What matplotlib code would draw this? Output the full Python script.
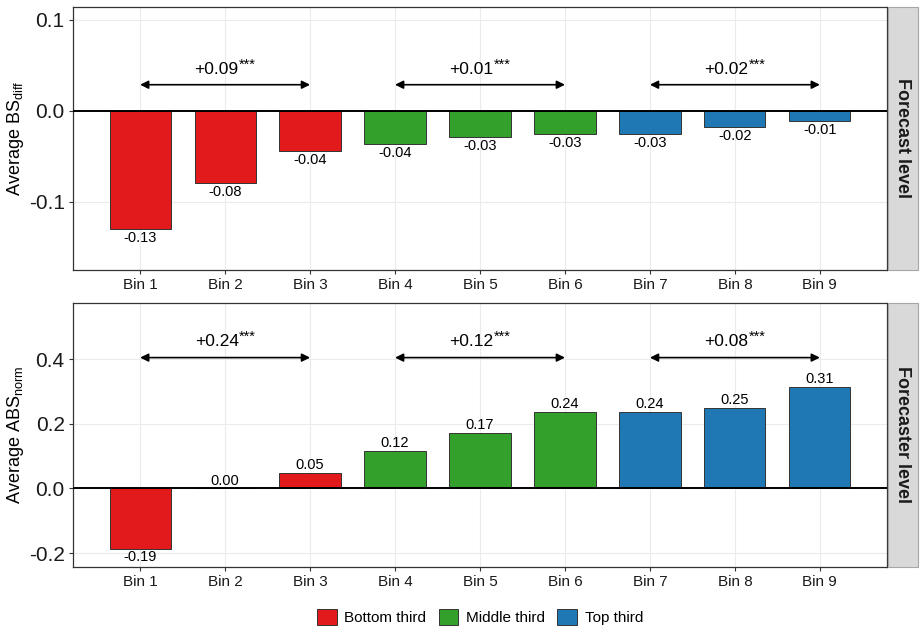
import matplotlib
matplotlib.use("Agg")
import matplotlib.pyplot as plt
from matplotlib.patches import Patch, Rectangle
from matplotlib.transforms import offset_copy

plt.rcParams['font.family'] = ['Liberation Sans', 'DejaVu Sans']
plt.rcParams['mathtext.fontset'] = 'custom'
plt.rcParams['mathtext.rm'] = 'Liberation Sans'
plt.rcParams['mathtext.it'] = 'Liberation Sans'
plt.rcParams['mathtext.bf'] = 'Liberation Sans:bold'

bins = ["Bin 1", "Bin 2", "Bin 3", "Bin 4", "Bin 5", "Bin 6", "Bin 7", "Bin 8", "Bin 9"]
groups = ["Bottom third"] * 3 + ["Middle third"] * 3 + ["Top third"] * 3
group_names = ["Bottom third", "Middle third", "Top third"]
group_colors = {"Bottom third": "#E31A1C", "Middle third": "#33A02C", "Top third": "#1F78B4"}

bs_diff = [-0.130, -0.0795, -0.0447, -0.0366, -0.0289, -0.026, -0.026, -0.018, -0.011]
abs_norm = [-0.188, 0.0, 0.0487, 0.116, 0.172, 0.236, 0.236, 0.248, 0.313]

bs_diff_labels = ["-0.13", "-0.08", "-0.04", "-0.04", "-0.03", "-0.03", "-0.03", "-0.02", "-0.01"]
abs_norm_labels = ["-0.19", "0.00", "0.05", "0.12", "0.17", "0.24", "0.24", "0.25", "0.31"]

top_diffs = ["+0.09", "+0.01", "+0.02"]
bottom_diffs = ["+0.24", "+0.12", "+0.08"]
signif = "***"

W, H = 924, 633
fig = plt.figure(figsize=(W / 100, H / 100), dpi=100)

def ax_rect(l, t, r, b):
    return [l / W, 1 - b / H, (r - l) / W, (b - t) / H]

ax1 = fig.add_axes(ax_rect(73, 7, 887, 270))
ax2 = fig.add_axes(ax_rect(73, 303, 887, 567))

x = list(range(1, 10))
colors = [group_colors[g] for g in groups]

def style(ax, ylim, yticks, yticklabels, ylabel, strip):
    ax.set_xlim(0.21, 9.79)
    ax.set_ylim(*ylim)
    ax.set_yticks(yticks)
    ax.set_yticklabels(yticklabels, fontsize=15, color='#1a1a1a')
    ax.set_xticks(x)
    ax.set_xticklabels(bins, fontsize=11, color='#1a1a1a')
    ax.grid(True, color='#EBEBEB', linewidth=0.8)
    ax.set_axisbelow(True)
    for s in ax.spines.values():
        s.set_color('#333333')
        s.set_linewidth(0.9)
    ax.tick_params(axis='both', length=3, width=0.8, color='#333333', pad=3)
    ax.set_ylabel(ylabel, fontsize=13, labelpad=2)
    ax.axhline(0, color='black', linewidth=1.4, zorder=3)
    bb = ax.get_position()
    sx0 = 888 / W
    sw = (918 - 888) / W
    rect = Rectangle((sx0, bb.y0), sw, bb.height, transform=fig.transFigure,
                     facecolor='#D9D9D9', edgecolor='#A6A6A6', linewidth=0.8)
    fig.add_artist(rect)
    fig.text(sx0 + sw / 2, bb.y0 + bb.height / 2, strip, rotation=-90,
             ha='center', va='center', fontsize=13, fontweight='bold', color='#1a1a1a')

pending = []

def arrows(ax, y, ytext, diffs):
    for i, d in enumerate(diffs):
        x0 = 1 + 3 * i
        x1 = x0 + 2
        ax.annotate("", xy=(x0, y), xytext=(x1, y),
                    arrowprops=dict(arrowstyle='<|-|>', color='black', lw=1.2,
                                    mutation_scale=12, shrinkA=0, shrinkB=0))
        t = ax.text(x0 + 1, ytext, d, ha='right', va='bottom', fontsize=12.5)
        s = ax.text(x0 + 1, ytext, signif, ha='left', va='bottom', fontsize=10.5)
        pending.append((ax, t, s, x0 + 1, ytext))

# Top panel
ax1.bar(x, bs_diff, width=0.72, color=colors, edgecolor='#333333', linewidth=0.7, zorder=2)
for xi, v, lab in zip(x, bs_diff, bs_diff_labels):
    ax1.text(xi, v - 0.002, lab, ha='center', va='top', fontsize=10.5)
style(ax1, (-0.175, 0.114), [-0.1, 0.0, 0.1], ["-0.1", "0.0", "0.1"],
      r"Average BS$_{\mathrm{diff}}$", "Forecast level")
arrows(ax1, 0.0286, 0.037, top_diffs)

# Bottom panel
ax2.bar(x, abs_norm, width=0.72, color=colors, edgecolor='#333333', linewidth=0.7, zorder=2)
for xi, v, lab in zip(x, abs_norm, abs_norm_labels):
    if v < 0:
        ax2.text(xi, v - 0.003, lab, ha='center', va='top', fontsize=10.5)
    else:
        ax2.text(xi, v + 0.003, lab, ha='center', va='bottom', fontsize=10.5)
style(ax2, (-0.243, 0.574), [-0.2, 0.0, 0.2, 0.4], ["-0.2", "0.0", "0.2", "0.4"],
      r"Average ABS$_{\mathrm{norm}}$", "Forecaster level")
arrows(ax2, 0.405, 0.432, bottom_diffs)

handles = [Patch(facecolor=group_colors[g], edgecolor='#333333', linewidth=0.7, label=g)
           for g in group_names]
fig.legend(handles=handles, loc='center', bbox_to_anchor=(480 / W, 1 - 617 / H), ncol=3,
           frameon=False, fontsize=11, handlelength=1.3, handleheight=1.3,
           handletextpad=0.5, columnspacing=0.8)

# center combined "value***" labels
fig.canvas.draw()
r = fig.canvas.get_renderer()
for ax, t, s, xc, yt in pending:
    wt = t.get_window_extent(r).width
    ws = s.get_window_extent(r).width
    tot = wt + ws
    shift = tot / 2 - wt
    t.set_transform(offset_copy(ax.transData, fig=fig, x=-shift, y=0, units='dots'))
    s.set_transform(offset_copy(ax.transData, fig=fig, x=-shift, y=5, units='dots'))

fig.savefig("out.png", dpi=100)
